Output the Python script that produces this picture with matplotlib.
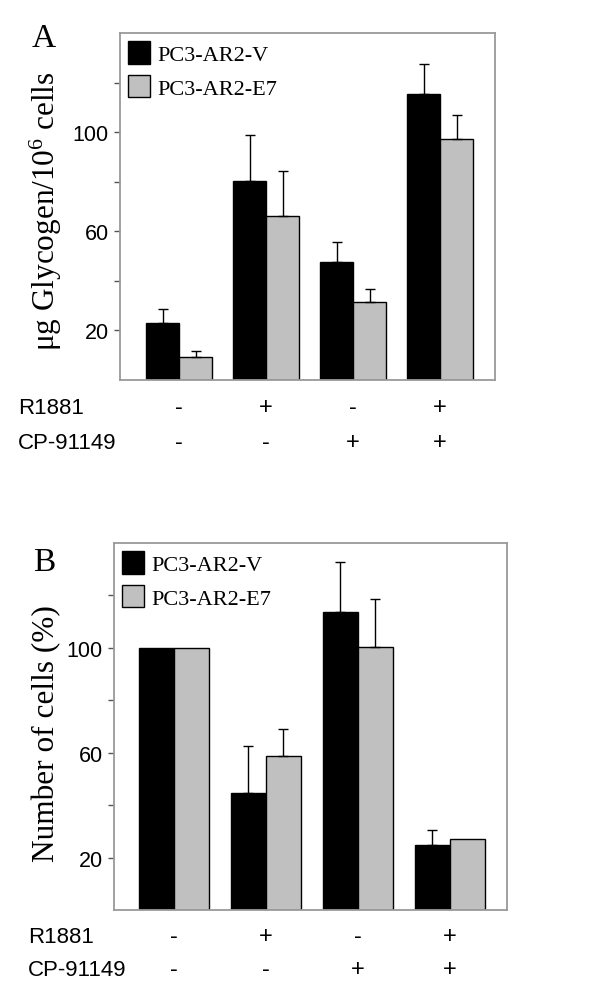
import matplotlib
matplotlib.use("Agg")
import matplotlib.pyplot as plt
from matplotlib.transforms import blended_transform_factory
import numpy as np

# ---- data ----
series_names = ["PC3-AR2-V", "PC3-AR2-E7"]
r1881 = ["-", "+", "-", "+"]
cp91149 = ["-", "-", "+", "+"]

glycogen_v = [23.1, 80.4, 47.5, 115.4]
glycogen_v_err = [5.5, 18.6, 8.2, 12.1]
glycogen_e7 = [9.2, 66.2, 31.6, 97.2]
glycogen_e7_err = [2.6, 18.0, 5.2, 9.6]

cells_v = [100.0, 44.8, 113.6, 24.8]
cells_v_err = [0.0, 17.6, 19.0, 5.6]
cells_e7 = [100.0, 58.9, 100.5, 27.1]
cells_e7_err = [0.0, 10.2, 18.2, 0.0]

yticks = [20, 40, 60, 80, 100, 120]
ytick_labels = ["20", "", "60", "", "100", ""]

plt.rcParams["mathtext.fontset"] = "custom"
plt.rcParams["mathtext.rm"] = "Liberation Serif"
plt.rcParams["mathtext.it"] = "Liberation Serif:italic"

SERIF = "Liberation Serif"
SANS = "Liberation Sans"
SPINE = "#9a9a9a"

fig = plt.figure(figsize=(6, 10.04), dpi=100)


def panel(rect, v, ve, e, ee, ylabel, letter, letter_xy, ylabel_xy,
          xlim, rowy, rowlabel_x):
    ax = fig.add_axes(rect)
    x = np.arange(len(v))
    w = 0.38
    b1 = ax.bar(x - w / 2, v, w, color="black", edgecolor="black",
                linewidth=1.0, label=series_names[0], zorder=2)
    b2 = ax.bar(x + w / 2, e, w, color="#c0c0c0", edgecolor="black",
                linewidth=1.0, label=series_names[1], zorder=2)
    ve_arr = np.array(ve)
    ee_arr = np.array(ee)
    mv = ve_arr > 0
    me = ee_arr > 0
    ax.errorbar((x - w / 2)[mv], np.array(v)[mv],
                yerr=[np.zeros(mv.sum()), ve_arr[mv]], fmt="none",
                ecolor="black", elinewidth=1.0, capsize=3.5, capthick=1.0,
                zorder=3)
    ax.errorbar((x + w / 2)[me], np.array(e)[me],
                yerr=[np.zeros(me.sum()), ee_arr[me]], fmt="none",
                ecolor="black", elinewidth=1.0, capsize=3.5, capthick=1.0,
                zorder=3)
    ax.set_ylim(0, 140)
    ax.set_xlim(*xlim)
    ax.set_xticks([])
    ax.set_yticks(yticks)
    ax.set_yticklabels(ytick_labels, fontfamily=SANS, fontsize=15.5)
    ax.tick_params(axis="y", direction="out", length=4, width=1,
                   color="#555555", pad=4)
    for s in ax.spines.values():
        s.set_color(SPINE)
        s.set_linewidth(1.3)
    ax.legend(handles=[b1, b2], loc="upper left", frameon=False,
              prop={"family": SERIF, "size": 16},
              handlelength=1.0, handleheight=1.2,
              handletextpad=0.35, labelspacing=0.45,
              borderpad=0.0, borderaxespad=0.35)
    # treatment signs under each group
    tr = blended_transform_factory(ax.transData, ax.transAxes)
    for i in range(len(r1881)):
        ax.text(x[i], rowy[0], r1881[i], transform=tr, ha="center",
                va="center", fontfamily=SANS, fontsize=17)
        ax.text(x[i], rowy[1], cp91149[i], transform=tr, ha="center",
                va="center", fontfamily=SANS, fontsize=17)
    axb = ax.get_position()
    for yy, lab in zip(rowy, ["R1881", "CP-91149"]):
        fy = axb.y0 + yy * axb.height
        fig.text(rowlabel_x, fy, lab, ha="left", va="center",
                 fontfamily=SANS, fontsize=16)
    fig.text(letter_xy[0], letter_xy[1], letter, ha="left", va="center",
             fontfamily=SERIF, fontsize=24)
    fig.text(ylabel_xy[0], ylabel_xy[1], ylabel, rotation=90, ha="center",
             va="center", fontfamily=SERIF, fontsize=22.5)
    return ax


panel([120 / 600, 1 - 381 / 1004, 375 / 600, 347 / 1004],
      glycogen_v, glycogen_v_err, glycogen_e7, glycogen_e7_err,
      r"μg Glycogen/10$^{6}$ cells", "A",
      (32 / 600, 1 - 39 / 1004), (46 / 600, 1 - 211 / 1004),
      (-0.68, 3.63), (-0.078, -0.179), 18 / 600)

panel([114 / 600, 1 - 911 / 1004, 393 / 600, 367 / 1004],
      cells_v, cells_v_err, cells_e7, cells_e7_err,
      "Number of cells (%)", "B",
      (33 / 600, 1 - 563 / 1004), (47 / 600, 1 - 734 / 1004),
      (-0.65, 3.62), (-0.071, -0.161), 28 / 600)

fig.savefig("out.png", dpi=100)
